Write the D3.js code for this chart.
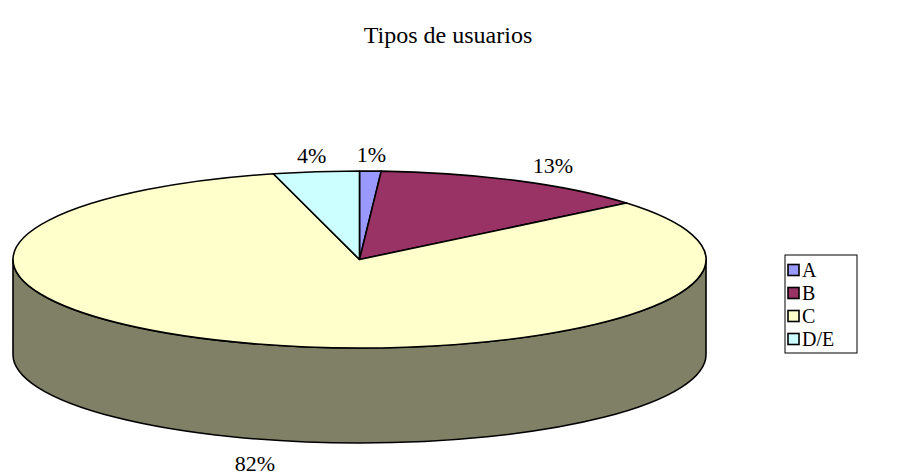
<!DOCTYPE html>
<html>
<head>
<meta charset="utf-8">
<script src="https://cdn.jsdelivr.net/npm/d3@7"></script>
<style>
  body { margin: 0; background: #fff; }
  svg, svg text { font-family: "Times New Roman", "Liberation Serif", "DejaVu Serif", serif; }
  text { fill: #000; }
</style>
</head>
<body>
<svg id="chart" width="917" height="476"></svg>
<script>
// data
var categories = ["A", "B", "C", "D/E"];
var shares = [1, 13, 82, 4];
var colors = ["#9999FF", "#993366", "#FFFFCC", "#CCFFFF"];
var sideColors = ["#4d4d80", "#4d1a33", "#808066", "#668080"];
var title = "Tipos de usuarios";

var W = 917, H = 476;
var cx = 359.5, cy = 259.5, rx = 346.5, ry = 88.5, depth = 95;
var serif = "'Times New Roman', 'Liberation Serif', serif";

var svg = d3.select("#chart");

var pie = d3.pie().sort(null).value(function(d){ return d.v; });
var data = categories.map(function(c, i){ return {name: c, v: shares[i], i: i}; });
var arcs = pie(data);
var total = d3.sum(shares);
var fmt = d3.format(".0%");

// angle is clockwise from 12 o'clock, like d3.pie
function pt(a, dy){
  return [cx + rx * Math.sin(a), cy - ry * Math.cos(a) + (dy || 0)];
}

function topPath(d){
  var p0 = pt(d.startAngle), p1 = pt(d.endAngle);
  var large = (d.endAngle - d.startAngle) > Math.PI ? 1 : 0;
  return "M" + cx + "," + cy + "L" + p0 + "A" + rx + "," + ry + " 0 " + large + " 1 " + p1 + "Z";
}

// front wall, only the part that lies between 90 and 270 degrees
function sidePath(d){
  var a0 = Math.max(d.startAngle, Math.PI / 2);
  var a1 = Math.min(d.endAngle, 3 * Math.PI / 2);
  if(a1 <= a0) return null;
  var p0 = pt(a0), p1 = pt(a1), q1 = pt(a1, depth), q0 = pt(a0, depth);
  var large = (a1 - a0) > Math.PI ? 1 : 0;
  return "M" + p0 + "A" + rx + "," + ry + " 0 " + large + " 1 " + p1 +
         "L" + q1 + "A" + rx + "," + ry + " 0 " + large + " 0 " + q0 + "Z";
}

var g = svg.append("g");

g.selectAll("path.side")
  .data(arcs.filter(function(d){ return sidePath(d) != null; }))
  .enter().append("path")
  .attr("class", "side")
  .attr("d", sidePath)
  .attr("fill", function(d){ return sideColors[d.data.i]; })
  .attr("stroke", "#000")
  .attr("stroke-width", 1.6)
  .attr("stroke-linejoin", "round");

g.selectAll("path.top")
  .data(arcs)
  .enter().append("path")
  .attr("class", "top")
  .attr("d", topPath)
  .attr("fill", function(d){ return colors[d.data.i]; })
  .attr("stroke", "#000")
  .attr("stroke-width", 1.6)
  .attr("stroke-linejoin", "round");

// percentage labels outside the pie
function mid(d){ return (d.startAngle + d.endAngle) / 2; }

g.selectAll("text.pct")
  .data(arcs)
  .enter().append("text")
  .attr("class", "pct")
  .attr("x", function(d){
    var a = mid(d);
    if(Math.cos(a) < 0) return cx + (rx - 8) * Math.sin(a);
    return cx + (rx + 35) * Math.sin(a);
  })
  .attr("y", function(d){
    var c = Math.cos(mid(d));
    if(c < 0) return cy - (ry + 26) * c + depth;
    return cy - (ry + 17) * c;
  })
  .attr("dy", "0.35em")
  .attr("text-anchor", function(d){
    var s = Math.sin(mid(d)), c = Math.cos(mid(d));
    if(c < 0) return "middle";
    return s > 0.2 ? "start" : (s < -0.2 ? "end" : "middle");
  })
  .style("font-family", serif)
  .style("font-size", "22px")
  .text(function(d){ return fmt(d.data.v / total); });

// title
svg.append("text")
  .attr("x", 448).attr("y", 43)
  .attr("text-anchor", "middle")
  .style("font-family", serif)
  .style("font-size", "24px")
  .text(title);

// legend
var lx = 785, ly = 255, lw = 72, lh = 98;
var legend = svg.append("g");
legend.append("rect")
  .attr("x", lx).attr("y", ly).attr("width", lw).attr("height", lh)
  .attr("fill", "#fff").attr("stroke", "#000").attr("stroke-width", 1);

var rowY = d3.scalePoint().domain(categories).range([ly + 15, ly + lh - 14]);
var item = legend.selectAll("g.item")
  .data(categories)
  .enter().append("g")
  .attr("class", "item")
  .attr("transform", function(d){ return "translate(" + (lx + 3) + "," + rowY(d) + ")"; });

item.append("rect")
  .attr("x", 0).attr("y", -5.5).attr("width", 11).attr("height", 11)
  .attr("fill", function(d, i){ return colors[i]; })
  .attr("stroke", "#000").attr("stroke-width", 1.6);

item.append("text")
  .attr("x", 14).attr("y", 0).attr("dy", "0.35em")
  .style("font-family", serif)
  .style("font-size", "20px")
  .text(function(d){ return d; });
</script>
</body>
</html>
